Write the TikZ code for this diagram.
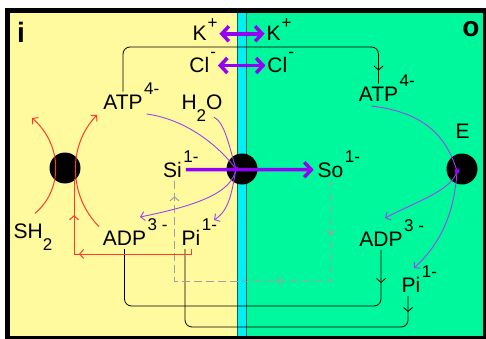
\documentclass[tikz,border=0pt]{standalone}
\usepackage{fontspec}
\setmainfont{Liberation Sans}
\usepackage{xcolor}
\usepackage{tikz}
\usetikzlibrary{arrows.meta,positioning,calc,decorations.markings}
\definecolor{pale}{HTML}{FFFA9E}
\definecolor{mint}{HTML}{00F89C}
\definecolor{aqua}{HTML}{00F0F4}
\definecolor{wall}{HTML}{006A6A}
\definecolor{ionviolet}{HTML}{9400F4}
\definecolor{fluxviolet}{HTML}{A040F0}
\definecolor{redox}{HTML}{FF3A2A}
\definecolor{leakgray}{HTML}{A0A0A0}
\newcommand\ionup[1]{\rlap{\kern1.5pt\raisebox{15pt}[0pt][0pt]{\fontsize{17}{17}\selectfont #1}}}
\newcommand\ionupw[2][15pt]{\kern1pt\raisebox{#1}[0pt][0pt]{\fontsize{17}{17}\selectfont #2}}
\newcommand\ionlow[1]{\raisebox{-12pt}[0pt][0pt]{\fontsize{17}{17}\selectfont #1}}

\begin{document}
\begin{tikzpicture}[x=1pt,y=-1pt,font=\fontsize{21}{25}\selectfont,
  lbl/.style={inner sep=0pt,outer sep=4pt,anchor=base},
  ion/.style={lbl,outer sep=2pt},
  side/.style={inner sep=0pt,anchor=base,font=\fontsize{28}{30}\selectfont\bfseries},
  blob/.style={circle,fill=black,inner sep=0pt,minimum size=31pt},
  hub/.style={circle,fill=ionviolet,inner sep=0pt,minimum size=5pt},
  pumpTip/.tip={Straight Barb[length=7pt,width=15pt]},
  barbTip/.tip={Straight Barb[length=4pt,width=9pt]},
  tipat/.style={postaction={decorate,decoration={markings,mark=at position #1 with {\arrow{barbTip}}}}},
  carrier/.style={line width=0.8pt,rounded corners=7pt},
  leak/.style={leakgray,line width=1pt,dash pattern=on 8pt off 4pt},
  redline/.style={redox,line width=1pt},
  pump/.style={ionviolet,line width=3.5pt},
  flux/.style={fluxviolet,line width=0.9pt}]
\useasboundingbox (0,0) rectangle (486,339);
\fill[white] (0,0) rectangle (486,339);
\fill[black] (5,8) rectangle (486,339);
\fill[pale] (10,13) rectangle (237,336);
\fill[aqua] (237,13) rectangle (247,336);
\fill[mint] (247,13) rectangle (483,336);
\draw[wall,line width=0.8pt] (237,13) -- (237,336) (246.5,13) -- (246.5,336);

% compartment labels
\node[side] (In) at (21,43) {i};
\node[side] (Out) at (471,37) {o};

% ions and substrates
\node[ion] (Ki) at (205,41) {K\ionupw[12pt]{+}};
\node[ion] (Ko) at (279,41) {K\ionupw[12pt]{+}};
\node[ion] (Cli) at (202.7,73) {Cl\ionupw{-}};
\node[ion] (Clo) at (280.7,73) {Cl\ionupw{-}};
\node[lbl] (ATPi) at (123,110) {ATP\ionup{4-}};
\node[lbl] (H2O) at (202,110) {H\ionlow{2}O};
\node[lbl] (Si) at (172.5,177) {Si\ionup{1-}};
\node[lbl] (So) at (330.5,177) {So\ionup{1-}};
\node[lbl] (SHi) at (33,238) {SH\ionlow{2}};
\node[lbl] (ADPi) at (124.5,245) {ADP\ionup{3 -}};
\node[lbl] (PiI) at (191,245) {Pi\ionup{1-}};
\node[lbl] (ATPo) at (378.5,102) {ATP\ionup{4-}};
\node[lbl] (ADPo) at (381,246) {ADP\ionup{3 -}};
\node[lbl] (PiO) at (411,292) {Pi\ionup{1-}};
\node[lbl] (E) at (462.5,139) {E};

% carriers
\node[blob] (Ci) at (65,168) {};
\node[blob] (Cm) at (242,169) {};
\node[blob] (Co) at (462,169) {};

\coordinate (Ytop) at (0,47);
\coordinate (Yadp) at (0,306);
\coordinate (Ypi) at (0,327);
\coordinate (Yleak) at (0,281);
\coordinate (PiIb) at ($(PiI.south)+(-6,0)$);
\coordinate (PiOb) at ($(PiO.south)+(-3,0)$);
\coordinate (SiD) at ($(Si.south)+(2,0)$);
\coordinate (Rc) at (74,254);
\coordinate (Ra) at (32,118);
\coordinate (Rb) at (97,115);
\coordinate (Ta) at (140,217);
\coordinate (Tb) at (214,220);
\coordinate (Tc) at (385,218);
\coordinate (Td) at (414,268);

% exchange loops
\draw[carrier,tipat=-13pt] (ATPi.north) |- (ATPo.north |- Ytop) -- (ATPo.north);
\draw[carrier,tipat=33pt] (ADPo.south) |- (ADPi.south |- Yadp) -- (ADPi.south);
\draw[carrier,tipat=16pt] (PiOb) |- (PiIb |- Ypi) -- (PiIb);
\draw[leak,tipat=54pt,tipat=154pt,tipat=-15pt] (So.south) |- (SiD |- Yleak) -- (SiD);

% redox pump
\draw[redline,tipat=117pt,tipat=-36pt] (PiI.south) |- (Rc) -- (Rc |- Ci.south east);
\draw[redline,-barbTip] ($(SHi.north)+(2,-6)$) .. controls (63,190) and (63,145) .. (Ra);
\draw[redline,-barbTip] (ADPi.north west) .. controls (68,195) and (68,145) .. (Rb);

% ATPase fluxes
\draw[flux] (ATPi.south east) .. controls (190,120) and (222,150) .. (236,169);
\draw[flux] ($(H2O.south)+(12,3)$) .. controls (225,122) and (230,150) .. (236,169);
\draw[flux,-barbTip] (236,169) .. controls (232,192) and (200,205) .. (Ta);
\draw[flux,-barbTip] (236,169) .. controls (232,190) and (230,210) .. (Tb);
\draw[flux] ($(ATPo.south)+(-7,0)$) .. controls (420,112) and (445,132) .. (457,171);
\draw[flux,-barbTip] (457,171) .. controls (452,190) and (420,200) .. (Tc);
\draw[flux,-barbTip] (457,171) .. controls (455,205) and (445,240) .. (Td);

% transport
\draw[pump,pumpTip-pumpTip] (Ki) -- (Ko);
\draw[pump,pumpTip-pumpTip] (Cli) -- (Clo);
\draw[pump,-pumpTip] (Si) -- (So);
\node[hub] (Dm) at (236,169) {};
\node[hub] (Do) at (457,171) {};
\end{tikzpicture}
\end{document}
